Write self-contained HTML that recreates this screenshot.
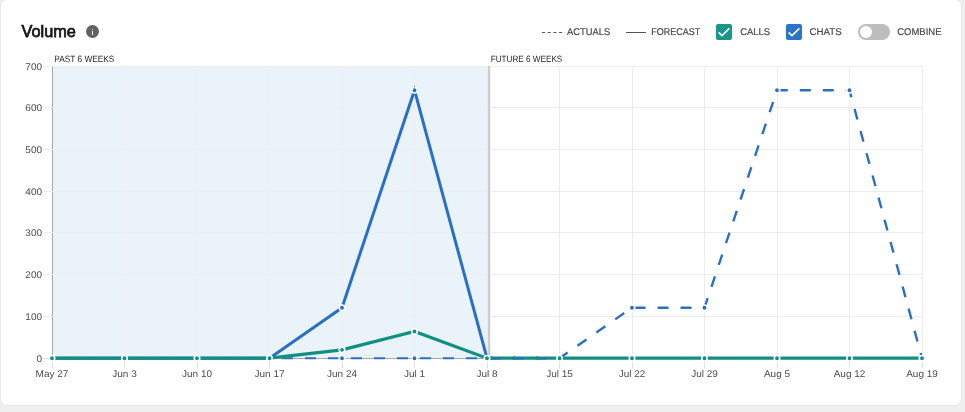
<!DOCTYPE html>
<html><head><meta charset="utf-8">
<style>
html,body{margin:0;padding:0;}
body{width:965px;height:412px;background:#efefef;position:relative;overflow:hidden;font-family:"Liberation Sans",sans-serif;}
.card{position:absolute;left:0px;top:-1px;width:960px;height:405px;background:#fff;border:1px solid #e6e6e6;border-radius:7px;}
.title{position:absolute;left:21.1px;top:22.6px;font-size:16.7px;color:#1e1e1e;line-height:20px;-webkit-text-stroke:0.5px #1e1e1e;}
.info{position:absolute;left:86px;top:25px;width:13px;height:13px;border-radius:50%;background:#626262;}
.info:before{content:"";position:absolute;left:5.75px;top:6.1px;width:1.5px;height:3.9px;background:#fff;}
.info:after{content:"";position:absolute;left:5.75px;top:3.7px;width:1.5px;height:1.4px;background:#fff;}
.lg{position:absolute;top:26px;font-size:10px;line-height:12px;color:#555;letter-spacing:-0.4px;white-space:nowrap;}
.ttl{font-size:16.7px;fill:#151515;stroke:#151515;stroke-width:0.75px;font-family:"Liberation Sans",sans-serif;}
.lgt{font-size:9.8px;text-rendering:geometricPrecision;fill:#4a4a4a;stroke:#4a4a4a;stroke-width:0.2px;font-family:"Liberation Sans",sans-serif;}
.cb{position:absolute;top:24px;width:16px;height:16px;border-radius:2px;}
.tog{position:absolute;left:858px;top:24px;width:32px;height:16px;border-radius:8px;background:#bdbdbd;}
.knob{position:absolute;left:1.6px;top:1.75px;width:12.5px;height:12.5px;border-radius:50%;background:#fff;}
.ax{font-size:9.7px;text-rendering:geometricPrecision;fill:#4c4c4c;font-family:"Liberation Sans",sans-serif;}
.sec{font-size:9.2px;text-rendering:geometricPrecision;fill:#262626;font-family:"Liberation Sans",sans-serif;}
</style></head><body>
<div class="card"></div>

<div class="info"></div>
<svg width="965" height="412" style="position:absolute;left:0;top:0;will-change:transform">
<line x1="542" x2="562" y1="32.5" y2="32.5" stroke="#555" stroke-width="1" stroke-dasharray="3 2.7"/>
<line x1="626" x2="646" y1="32.5" y2="32.5" stroke="#555" stroke-width="1"/>
<text x="21.5" y="36.9" class="ttl" textLength="54.3" lengthAdjust="spacingAndGlyphs">Volume</text>
<text x="567" y="35" class="lgt" textLength="43.2" lengthAdjust="spacingAndGlyphs">ACTUALS</text>
<text x="651.2" y="35" class="lgt" textLength="49.1" lengthAdjust="spacingAndGlyphs">FORECAST</text>
<text x="740.2" y="35" class="lgt" textLength="30" lengthAdjust="spacingAndGlyphs">CALLS</text>
<text x="809.4" y="35" class="lgt" textLength="32.3" lengthAdjust="spacingAndGlyphs">CHATS</text>
<text x="897.2" y="35" class="lgt" textLength="44.3" lengthAdjust="spacingAndGlyphs">COMBINE</text>
</svg>
<div class="cb" style="left:716px;background:#199688"><svg width="16" height="16" viewBox="0 0 16 16" style="position:absolute;left:0;top:0"><path d="M2.6 8.4 L6 11.6 L13.4 4.4" fill="none" stroke="#fff" stroke-width="1.5"/></svg></div>
<div class="cb" style="left:786px;background:#2a75c7"><svg width="16" height="16" viewBox="0 0 16 16" style="position:absolute;left:0;top:0"><path d="M2.6 8.4 L6 11.6 L13.4 4.4" fill="none" stroke="#fff" stroke-width="1.5"/></svg></div>
<div class="tog"><div class="knob"></div></div>

<svg width="965" height="412" style="position:absolute;left:0;top:0;will-change:transform">
<rect x="53" y="67" width="434" height="291" fill="#eaf2fa"/><text transform="translate(42,362.0) scale(1,1.0)" text-anchor="end" class="ax" textLength="5.56" lengthAdjust="spacingAndGlyphs">0</text><text transform="translate(42,320.0) scale(1,1.0)" text-anchor="end" class="ax" textLength="16.68" lengthAdjust="spacingAndGlyphs">100</text><text transform="translate(42,278.0) scale(1,1.0)" text-anchor="end" class="ax" textLength="16.68" lengthAdjust="spacingAndGlyphs">200</text><text transform="translate(42,236.0) scale(1,1.0)" text-anchor="end" class="ax" textLength="16.68" lengthAdjust="spacingAndGlyphs">300</text><text transform="translate(42,195.0) scale(1,1.0)" text-anchor="end" class="ax" textLength="16.68" lengthAdjust="spacingAndGlyphs">400</text><text transform="translate(42,153.0) scale(1,1.0)" text-anchor="end" class="ax" textLength="16.68" lengthAdjust="spacingAndGlyphs">500</text><text transform="translate(42,111.0) scale(1,1.0)" text-anchor="end" class="ax" textLength="16.68" lengthAdjust="spacingAndGlyphs">600</text><text transform="translate(42,70.0) scale(1,1.0)" text-anchor="end" class="ax" textLength="16.68" lengthAdjust="spacingAndGlyphs">700</text><line x1="52.5" x2="52.5" y1="359" y2="368.5" stroke="#e0e0e0" stroke-width="1"/><text transform="translate(52.0,377) scale(1,1.0)" text-anchor="middle" class="ax" textLength="32.79" lengthAdjust="spacingAndGlyphs">May 27</text><line x1="124.5" x2="124.5" y1="66" y2="358" stroke="#edeff1" stroke-width="1"/><line x1="124.5" x2="124.5" y1="359" y2="368.5" stroke="#e0e0e0" stroke-width="1"/><text transform="translate(124.5,377) scale(1,1.0)" text-anchor="middle" class="ax" textLength="24.46" lengthAdjust="spacingAndGlyphs">Jun 3</text><line x1="197.5" x2="197.5" y1="66" y2="358" stroke="#edeff1" stroke-width="1"/><line x1="197.5" x2="197.5" y1="359" y2="368.5" stroke="#e0e0e0" stroke-width="1"/><text transform="translate(197.0,377) scale(1,1.0)" text-anchor="middle" class="ax" textLength="30.02" lengthAdjust="spacingAndGlyphs">Jun 10</text><line x1="269.5" x2="269.5" y1="66" y2="358" stroke="#edeff1" stroke-width="1"/><line x1="269.5" x2="269.5" y1="359" y2="368.5" stroke="#e0e0e0" stroke-width="1"/><text transform="translate(269.5,377) scale(1,1.0)" text-anchor="middle" class="ax" textLength="30.02" lengthAdjust="spacingAndGlyphs">Jun 17</text><line x1="342.5" x2="342.5" y1="66" y2="358" stroke="#edeff1" stroke-width="1"/><line x1="342.5" x2="342.5" y1="359" y2="368.5" stroke="#e0e0e0" stroke-width="1"/><text transform="translate(342.0,377) scale(1,1.0)" text-anchor="middle" class="ax" textLength="30.02" lengthAdjust="spacingAndGlyphs">Jun 24</text><line x1="414.5" x2="414.5" y1="66" y2="358" stroke="#edeff1" stroke-width="1"/><line x1="414.5" x2="414.5" y1="359" y2="368.5" stroke="#e0e0e0" stroke-width="1"/><text transform="translate(414.5,377) scale(1,1.0)" text-anchor="middle" class="ax" textLength="21.12" lengthAdjust="spacingAndGlyphs">Jul 1</text><line x1="487.5" x2="487.5" y1="66" y2="358" stroke="#ececec" stroke-width="1"/><line x1="487.5" x2="487.5" y1="359" y2="368.5" stroke="#e0e0e0" stroke-width="1"/><text transform="translate(487.0,377) scale(1,1.0)" text-anchor="middle" class="ax" textLength="21.12" lengthAdjust="spacingAndGlyphs">Jul 8</text><line x1="559.5" x2="559.5" y1="66" y2="358" stroke="#ececec" stroke-width="1"/><line x1="559.5" x2="559.5" y1="359" y2="368.5" stroke="#e0e0e0" stroke-width="1"/><text transform="translate(559.5,377) scale(1,1.0)" text-anchor="middle" class="ax" textLength="26.68" lengthAdjust="spacingAndGlyphs">Jul 15</text><line x1="632.5" x2="632.5" y1="66" y2="358" stroke="#ececec" stroke-width="1"/><line x1="632.5" x2="632.5" y1="359" y2="368.5" stroke="#e0e0e0" stroke-width="1"/><text transform="translate(632.0,377) scale(1,1.0)" text-anchor="middle" class="ax" textLength="26.68" lengthAdjust="spacingAndGlyphs">Jul 22</text><line x1="704.5" x2="704.5" y1="66" y2="358" stroke="#ececec" stroke-width="1"/><line x1="704.5" x2="704.5" y1="359" y2="368.5" stroke="#e0e0e0" stroke-width="1"/><text transform="translate(704.5,377) scale(1,1.0)" text-anchor="middle" class="ax" textLength="26.68" lengthAdjust="spacingAndGlyphs">Jul 29</text><line x1="777.5" x2="777.5" y1="66" y2="358" stroke="#ececec" stroke-width="1"/><line x1="777.5" x2="777.5" y1="359" y2="368.5" stroke="#e0e0e0" stroke-width="1"/><text transform="translate(777.0,377) scale(1,1.0)" text-anchor="middle" class="ax" textLength="26.13" lengthAdjust="spacingAndGlyphs">Aug 5</text><line x1="849.5" x2="849.5" y1="66" y2="358" stroke="#ececec" stroke-width="1"/><line x1="849.5" x2="849.5" y1="359" y2="368.5" stroke="#e0e0e0" stroke-width="1"/><text transform="translate(849.5,377) scale(1,1.0)" text-anchor="middle" class="ax" textLength="31.69" lengthAdjust="spacingAndGlyphs">Aug 12</text><line x1="922.5" x2="922.5" y1="66" y2="358" stroke="#ececec" stroke-width="1"/><line x1="922.5" x2="922.5" y1="359" y2="368.5" stroke="#e0e0e0" stroke-width="1"/><text transform="translate(922.0,377) scale(1,1.0)" text-anchor="middle" class="ax" textLength="31.69" lengthAdjust="spacingAndGlyphs">Aug 19</text><line x1="52.5" x2="52.5" y1="66" y2="359" stroke="#a8a8a8" stroke-width="1"/><line x1="52" x2="923" y1="358.5" y2="358.5" stroke="#a8a8a8" stroke-width="1"/><line x1="43" x2="52" y1="358.5" y2="358.5" stroke="#dedede" stroke-width="1"/><line x1="43" x2="53" y1="316.5" y2="316.5" stroke="#ececec" stroke-width="1"/><line x1="53" x2="487" y1="316.5" y2="316.5" stroke="#edeff1" stroke-width="1"/><line x1="487" x2="923" y1="316.5" y2="316.5" stroke="#ececec" stroke-width="1"/><line x1="43" x2="53" y1="274.5" y2="274.5" stroke="#ececec" stroke-width="1"/><line x1="53" x2="487" y1="274.5" y2="274.5" stroke="#edeff1" stroke-width="1"/><line x1="487" x2="923" y1="274.5" y2="274.5" stroke="#ececec" stroke-width="1"/><line x1="43" x2="53" y1="232.5" y2="232.5" stroke="#ececec" stroke-width="1"/><line x1="53" x2="487" y1="232.5" y2="232.5" stroke="#edeff1" stroke-width="1"/><line x1="487" x2="923" y1="232.5" y2="232.5" stroke="#ececec" stroke-width="1"/><line x1="43" x2="53" y1="191.5" y2="191.5" stroke="#ececec" stroke-width="1"/><line x1="53" x2="487" y1="191.5" y2="191.5" stroke="#edeff1" stroke-width="1"/><line x1="487" x2="923" y1="191.5" y2="191.5" stroke="#ececec" stroke-width="1"/><line x1="43" x2="53" y1="149.5" y2="149.5" stroke="#ececec" stroke-width="1"/><line x1="53" x2="487" y1="149.5" y2="149.5" stroke="#edeff1" stroke-width="1"/><line x1="487" x2="923" y1="149.5" y2="149.5" stroke="#ececec" stroke-width="1"/><line x1="43" x2="53" y1="107.5" y2="107.5" stroke="#ececec" stroke-width="1"/><line x1="53" x2="487" y1="107.5" y2="107.5" stroke="#edeff1" stroke-width="1"/><line x1="487" x2="923" y1="107.5" y2="107.5" stroke="#ececec" stroke-width="1"/><line x1="43" x2="53" y1="66.5" y2="66.5" stroke="#ececec" stroke-width="1"/><line x1="53" x2="487" y1="66.5" y2="66.5" stroke="#ececec" stroke-width="1"/><line x1="487" x2="923" y1="66.5" y2="66.5" stroke="#ececec" stroke-width="1"/><rect x="488" y="66" width="2" height="292" fill="#cdcdcd"/><rect x="490" y="66" width="1" height="292" fill="#f1f1f1"/><polyline points="52.00,358.20 124.50,358.20 197.00,358.20 269.50,358.20 342.00,358.20 414.50,358.20 487.00,358.20" fill="none" stroke="#2a6fc6" stroke-width="2" stroke-dasharray="11 12" stroke-dashoffset="0"/><circle cx="342.00" cy="358.20" r="2.75" fill="#2a6fc6" stroke="#fff" stroke-width="1.6"/><circle cx="414.50" cy="358.20" r="2.75" fill="#2a6fc6" stroke="#fff" stroke-width="1.6"/><polyline points="52.00,358.20 124.50,358.20 197.00,358.20 269.50,358.20 342.00,307.69 414.50,90.21 487.00,358.20" fill="none" stroke="#2a6fc6" stroke-width="3" stroke-linejoin="miter"/><circle cx="342.00" cy="307.69" r="2.75" fill="#2a6fc6" stroke="#fff" stroke-width="1.6"/><circle cx="414.50" cy="90.21" r="2.75" fill="#2a6fc6" stroke="#fff" stroke-width="1.6"/><polyline points="52.00,358.20 124.50,358.20 197.00,358.20 269.50,358.20 342.00,349.85 414.50,331.48 487.00,358.20 559.50,358.20 632.00,358.20 704.50,358.20 777.00,358.20 849.50,358.20 922.00,358.20" fill="none" stroke="#119082" stroke-width="3.2"/><polyline points="487.00,358.20 559.50,358.20 632.00,307.69 704.50,307.69 777.00,90.21 849.50,90.21 922.00,358.20" fill="none" stroke="#2a6fc6" stroke-width="2.4" stroke-dasharray="11 12" stroke-dashoffset="-2.4"/><rect x="489.9" y="356.5" width="3.1" height="3" fill="#119082"/><rect x="512.9" y="356.5" width="3.1" height="3" fill="#119082"/><rect x="535.9" y="356.5" width="3.1" height="3" fill="#119082"/><circle cx="632.00" cy="307.69" r="2.75" fill="#2a6fc6" stroke="#fff" stroke-width="1.6"/><circle cx="704.50" cy="307.69" r="2.75" fill="#2a6fc6" stroke="#fff" stroke-width="1.6"/><circle cx="777.00" cy="90.21" r="2.75" fill="#2a6fc6" stroke="#fff" stroke-width="1.6"/><circle cx="849.50" cy="90.21" r="2.75" fill="#2a6fc6" stroke="#fff" stroke-width="1.6"/><circle cx="52.00" cy="358.20" r="2.75" fill="#119082" stroke="#fff" stroke-width="1.6"/><circle cx="124.50" cy="358.20" r="2.75" fill="#119082" stroke="#fff" stroke-width="1.6"/><circle cx="197.00" cy="358.20" r="2.75" fill="#119082" stroke="#fff" stroke-width="1.6"/><circle cx="269.50" cy="358.20" r="2.75" fill="#119082" stroke="#fff" stroke-width="1.6"/><circle cx="342.00" cy="349.85" r="2.75" fill="#119082" stroke="#fff" stroke-width="1.6"/><circle cx="414.50" cy="331.48" r="2.75" fill="#119082" stroke="#fff" stroke-width="1.6"/><circle cx="487.00" cy="358.20" r="2.75" fill="#119082" stroke="#fff" stroke-width="1.6"/><circle cx="559.50" cy="358.20" r="2.75" fill="#119082" stroke="#fff" stroke-width="1.6"/><circle cx="632.00" cy="358.20" r="2.75" fill="#119082" stroke="#fff" stroke-width="1.6"/><circle cx="704.50" cy="358.20" r="2.75" fill="#119082" stroke="#fff" stroke-width="1.6"/><circle cx="777.00" cy="358.20" r="2.75" fill="#119082" stroke="#fff" stroke-width="1.6"/><circle cx="849.50" cy="358.20" r="2.75" fill="#119082" stroke="#fff" stroke-width="1.6"/><circle cx="922.00" cy="358.20" r="2.75" fill="#119082" stroke="#fff" stroke-width="1.6"/><text x="54.3" y="62" class="sec" textLength="60" lengthAdjust="spacingAndGlyphs">PAST 6 WEEKS</text><text x="490.7" y="62" class="sec" textLength="71.6" lengthAdjust="spacingAndGlyphs">FUTURE 6 WEEKS</text>
</svg>
</body></html>
